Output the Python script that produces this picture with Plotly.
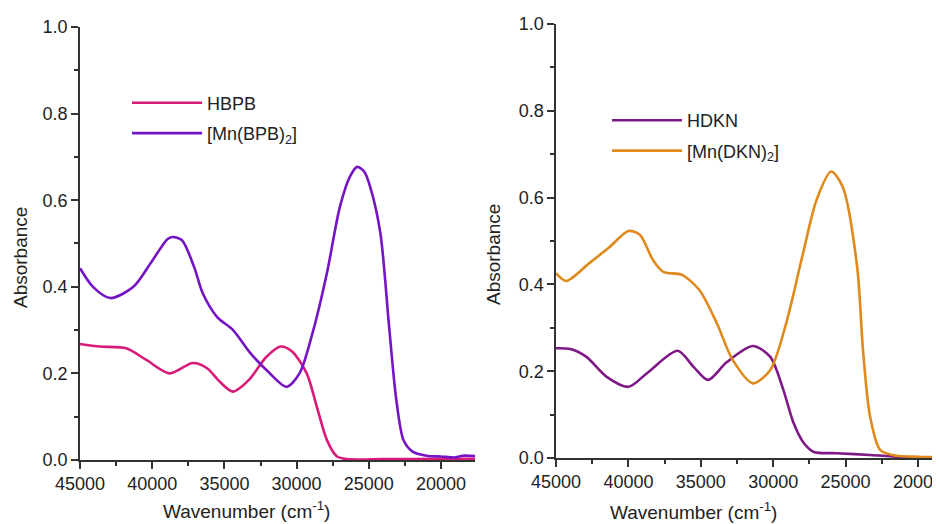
import plotly.graph_objects as go

# ---------- data ----------
bpb_x = [45000, 44100, 42900, 41300, 40100, 38950, 38600, 37950, 37100, 36500, 35500, 34400,
         33200, 32000, 30700, 29800, 28900, 27900, 27000, 26300, 25800, 25300, 24900, 24200,
         23600, 23100, 22600, 22000, 21000, 20000, 19000, 18500, 17600]
bpb_y = [0.443, 0.400, 0.374, 0.400, 0.455, 0.510, 0.515, 0.508, 0.446, 0.385, 0.330, 0.300,
         0.247, 0.205, 0.169, 0.200, 0.293, 0.432, 0.585, 0.655, 0.677, 0.665, 0.630, 0.524,
         0.310, 0.140, 0.046, 0.020, 0.010, 0.008, 0.006, 0.010, 0.009]

hbpb_x = [45000, 43600, 41800, 40400, 38800, 37200, 36200, 35300, 34400, 33300, 32100, 31100,
          30300, 29300, 28600, 27900, 27200, 26500, 24000, 20000, 17600]
hbpb_y = [0.268, 0.262, 0.258, 0.231, 0.200, 0.224, 0.212, 0.180, 0.158, 0.185, 0.238, 0.262,
          0.250, 0.200, 0.123, 0.046, 0.008, 0.002, 0.002, 0.003, 0.003]

dkn2_x = [45000, 44300, 42700, 41300, 40000, 39200, 38300, 37600, 36300, 35100, 33900, 32800,
          31400, 30200, 29100, 28000, 27000, 26000, 25200, 24200, 23800, 23300, 22600, 21500,
          20000, 18500]
dkn2_y = [0.426, 0.408, 0.449, 0.486, 0.523, 0.514, 0.456, 0.429, 0.422, 0.387, 0.311, 0.226,
          0.172, 0.203, 0.311, 0.463, 0.595, 0.660, 0.625, 0.440, 0.249, 0.094, 0.018, 0.005,
          0.003, 0.002]

hdkn_x = [45000, 44000, 42900, 41500, 40000, 38700, 36600, 35500, 34500, 33200, 31400, 30200,
          29300, 28600, 27900, 27200, 25600, 23300, 21000, 18500]
hdkn_y = [0.253, 0.251, 0.233, 0.187, 0.164, 0.196, 0.247, 0.210, 0.180, 0.221, 0.258, 0.233,
          0.157, 0.081, 0.035, 0.014, 0.011, 0.007, 0.002, 0.001]

y_ticks = [0.0, 0.2, 0.4, 0.6, 0.8, 1.0]
y_labels = ["0.0", "0.2", "0.4", "0.6", "0.8", "1.0"]
x_ticks = [45000, 40000, 35000, 30000, 25000, 20000]
x_labels = ["45000", "40000", "35000", "30000", "25000", "20000"]

FONT = "Liberation Sans, Arial, sans-serif"
C_PINK = "#D81B78"
C_VIOLET = "#7414C4"
C_PLUM = "#7E1886"
C_ORANGE = "#E0891C"

fig = go.Figure()

fig.add_trace(go.Scatter(x=hbpb_x, y=hbpb_y, name="HBPB", mode="lines",
                         line=dict(color=C_PINK, width=2.6, shape="spline", smoothing=0.8),
                         xaxis="x", yaxis="y", legend="legend", legendgroup="a"))
fig.add_trace(go.Scatter(x=bpb_x, y=bpb_y, name="[Mn(BPB)<sub>2</sub>]", mode="lines",
                         line=dict(color=C_VIOLET, width=2.6, shape="spline", smoothing=0.8),
                         xaxis="x", yaxis="y", legend="legend", legendgroup="b"))
fig.add_trace(go.Scatter(x=hdkn_x, y=hdkn_y, name="HDKN", mode="lines",
                         line=dict(color=C_PLUM, width=2.6, shape="spline", smoothing=0.8),
                         xaxis="x2", yaxis="y2", legend="legend2", legendgroup="c"))
fig.add_trace(go.Scatter(x=dkn2_x, y=dkn2_y, name="[Mn(DKN)<sub>2</sub>]", mode="lines",
                         line=dict(color=C_ORANGE, width=2.6, shape="spline", smoothing=0.8),
                         xaxis="x2", yaxis="y2", legend="legend2", legendgroup="d"))

xcommon = dict(showline=True, linecolor="#333", linewidth=1.5, showgrid=False, zeroline=False,
               automargin=False, ticklabeloverflow="allow",
               ticks="outside", ticklen=7, tickwidth=1.5, tickcolor="#333",
               tickvals=x_ticks, ticktext=x_labels,
               tickfont=dict(family=FONT, size=18, color="#222"),
               minor=dict(dtick=2500, tick0=0, ticks="outside", ticklen=4, tickwidth=1.5,
                          tickcolor="#333"))
ycommon = dict(showline=True, linecolor="#333", linewidth=1.5, showgrid=False, zeroline=False,
               automargin=False, ticklabeloverflow="allow",
               ticks="outside", ticklen=7, tickwidth=1.5, tickcolor="#333",
               tickvals=y_ticks, ticktext=y_labels, range=[0, 1.0],
               tickfont=dict(family=FONT, size=18, color="#222"),
               minor=dict(dtick=0.1, tick0=0, ticks="outside", ticklen=4, tickwidth=1.5,
                          tickcolor="#333"))

legfont = dict(family=FONT, size=18, color="#222")

# page body has an 8px margin, so the figure is 932x516 and placed at (8, 8)
fig.update_layout(
    width=932, height=516,
    margin=dict(l=0, r=0, t=0, b=0, autoexpand=False),
    paper_bgcolor="white", plot_bgcolor="white",
    xaxis=dict(domain=[0.07725, 0.5011], range=[45000, 17645], anchor="y", **xcommon),
    yaxis=dict(domain=[0.1240, 0.9632], anchor="x", **ycommon),
    xaxis2=dict(domain=[0.588, 1.0], range=[45000, 18480], anchor="y2", **xcommon),
    yaxis2=dict(domain=[0.1279, 0.969], anchor="x2", **ycommon),
    legend=dict(x=0.1277, y=0.8517, xanchor="left", yanchor="top", font=legfont,
                bgcolor="rgba(0,0,0,0)", itemwidth=70, tracegroupgap=4),
    legend2=dict(x=0.6427, y=0.8178, xanchor="left", yanchor="top", font=legfont,
                 bgcolor="rgba(0,0,0,0)", itemwidth=70, tracegroupgap=4),
    showlegend=True,
)

titlefont = dict(family=FONT, size=19, color="#222")
fig.add_annotation(text="Wavenumber (cm<sup>-1</sup>)", xref="paper", yref="paper",
                   x=0.2564, y=0.027, xanchor="center", yanchor="middle",
                   showarrow=False, font=titlefont)
fig.add_annotation(text="Wavenumber (cm<sup>-1</sup>)", xref="paper", yref="paper",
                   x=0.735, y=0.025, xanchor="center", yanchor="middle",
                   showarrow=False, font=titlefont)
fig.add_annotation(text="Absorbance", xref="paper", yref="paper",
                   x=0.0129, y=0.5155, xanchor="center", yanchor="middle", textangle=-90,
                   showarrow=False, font=titlefont)
fig.add_annotation(text="Absorbance", xref="paper", yref="paper",
                   x=0.5204, y=0.5213, xanchor="center", yanchor="middle", textangle=-90,
                   showarrow=False, font=titlefont)

fig.write_html("out.html")
